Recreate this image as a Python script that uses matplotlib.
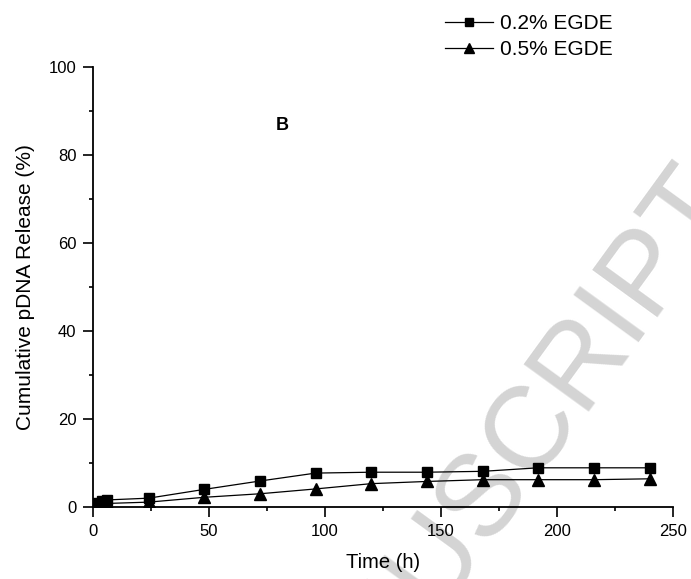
import matplotlib.pyplot as plt
from matplotlib.ticker import MultipleLocator

plt.rcParams['font.family'] = ['Liberation Sans', 'DejaVu Sans']

# release data
time_h = [1, 2, 4, 6, 24, 48, 72, 96, 120, 144, 168, 192, 216, 240]
egde_02 = [0.6, 1.0, 1.4, 1.6, 2.0, 4.0, 5.9, 7.7, 7.9, 7.9, 8.1, 8.9, 8.9, 8.9]
egde_05 = [0.2, 0.4, 0.6, 0.8, 1.1, 2.2, 3.0, 4.1, 5.3, 5.8, 6.2, 6.2, 6.2, 6.4]
labels = ['0.2% EGDE', '0.5% EGDE']

fig = plt.figure(figsize=(6.91, 5.79), dpi=100)
ax = fig.add_axes([0.1346, 0.1244, 0.839, 0.760])
ax.set_facecolor('none')

# faint watermark behind the plot
fig.text(1.035, 0.679, 'ACCEPTED MANUSCRIPT', rotation=54, rotation_mode='anchor',
         ha='right', va='center', fontsize=84, color='#d4d4d4', zorder=-5)

ax.plot(time_h, egde_02, '-s', color='black', lw=0.9, ms=7, label=labels[0])
ax.plot(time_h, egde_05, '-^', color='black', lw=0.9, ms=8.5, label=labels[1])

ax.set_xlim(0, 250)
ax.set_ylim(0, 100)
ax.xaxis.set_major_locator(MultipleLocator(50))
ax.xaxis.set_minor_locator(MultipleLocator(25))
ax.yaxis.set_major_locator(MultipleLocator(20))
ax.yaxis.set_minor_locator(MultipleLocator(10))
ax.spines['top'].set_visible(False)
ax.spines['right'].set_visible(False)
for s in ['left', 'bottom']:
    ax.spines[s].set_linewidth(1.3)
ax.tick_params(which='major', direction='out', length=7, width=1.2, pad=5, labelsize=12)
ax.tick_params(which='minor', direction='out', length=3, width=1.2)

ax.set_xlabel('Time (h)', fontsize=14.5, labelpad=10)
ax.set_ylabel('Cumulative pDNA Release (%)', fontsize=15, labelpad=10)
ax.text(81.5, 86.6, 'B', fontsize=13, fontweight='bold', ha='center', va='center')

fig.legend(loc='upper left', bbox_to_anchor=(0.644, 0.976), frameon=False,
           fontsize=15, handlelength=2.3, handletextpad=0.35, labelspacing=0.35,
           borderpad=0, borderaxespad=0, markerscale=0.85)

fig.savefig('out.png', dpi=100)
